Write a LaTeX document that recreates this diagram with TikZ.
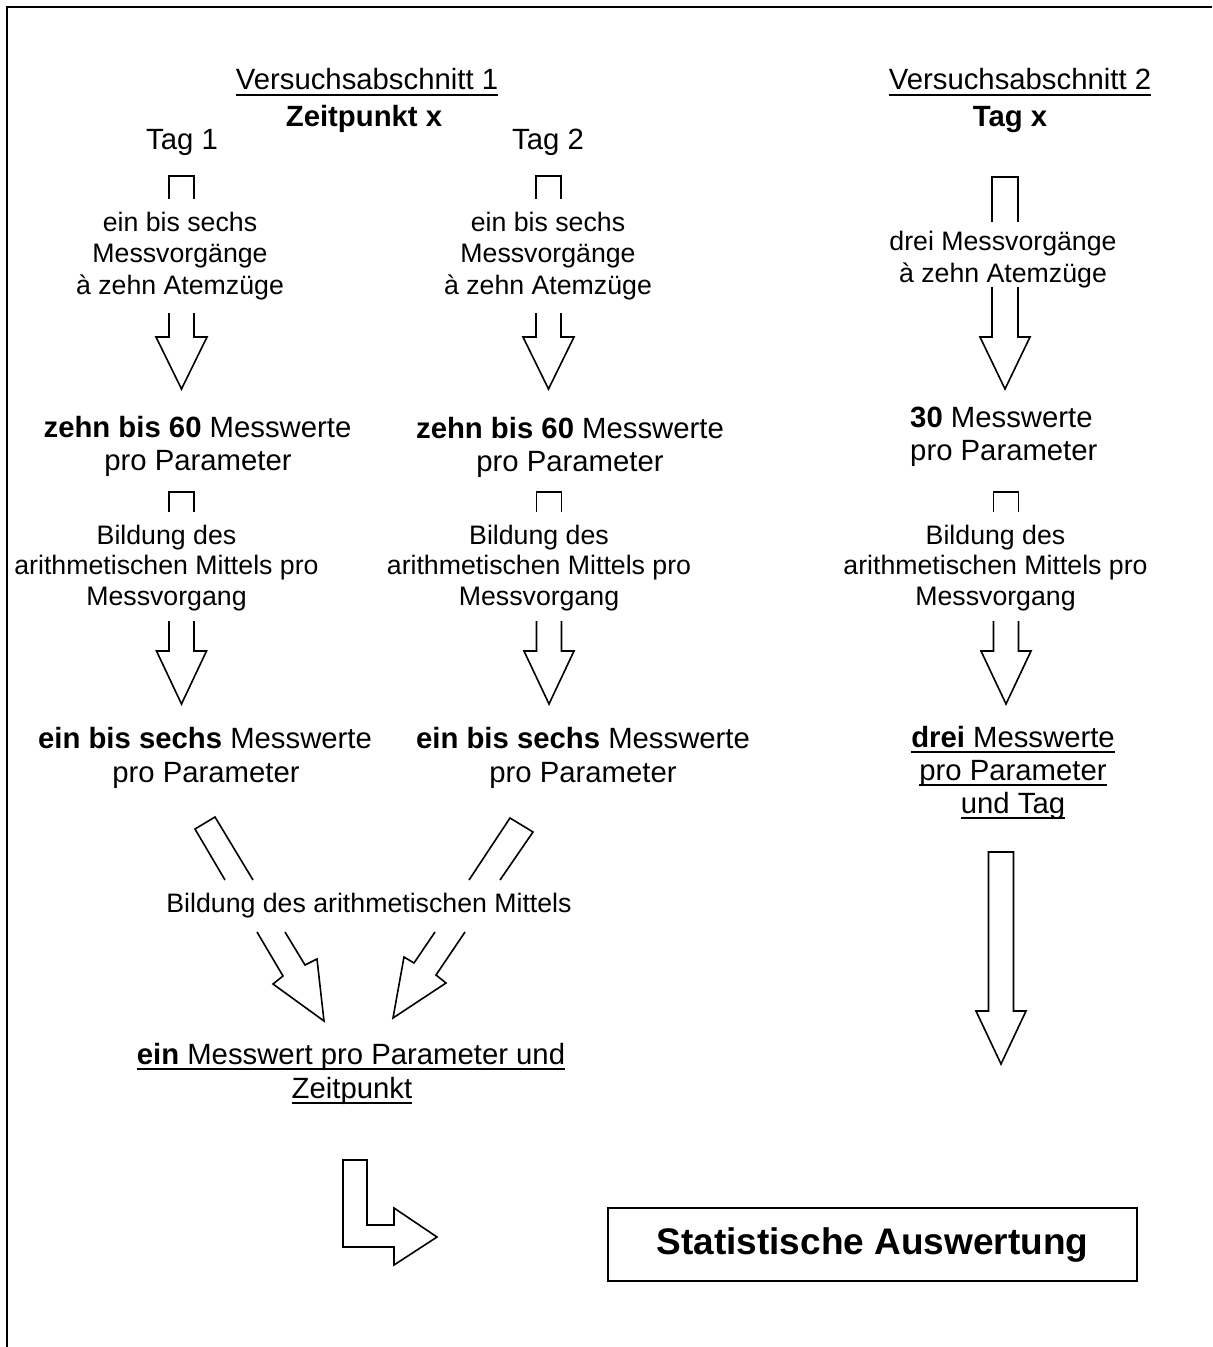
\documentclass[tikz,border=0pt]{standalone}
\usepackage{fontspec}
\setmainfont{Liberation Sans}
\tikzset{
  sm/.style={font=\fontsize{26.7bp}{31bp}\selectfont, inner sep=0pt, anchor=base},
  lg/.style={font=\fontsize{29.3bp}{34bp}\selectfont, inner sep=0pt, anchor=base},
  blk/.style={draw=black, line width=1.6bp, line join=miter},
  ulin/.style={draw=black, line width=2bp},
}
% underline of a text node
\newcommand\uln[1]{\draw[ulin] ([yshift=-5bp]#1.base west) -- ([yshift=-5bp]#1.base east);}
% tail of a block arrow: x, half shaft, y top, y bottom
\newcommand\arrtail[4]{\draw[blk] (#1-#2,#4) -- (#1-#2,#3) -- (#1+#2,#3) -- (#1+#2,#4);}
% head of a block arrow: x, half shaft, half head, y top, y base, y tip
\newcommand\arrhead[6]{\draw[blk] (#1-#2,#4) -- (#1-#2,#5) -- (#1-#3,#5) -- (#1,#6) -- (#1+#3,#5) -- (#1+#2,#5) -- (#1+#2,#4);}
\begin{document}
\begin{tikzpicture}[x=1bp,y=-1bp]
\useasboundingbox (0,0) rectangle (1212,1347);
\fill[white] (0,0) rectangle (1212,1347);
% frame
\draw[line width=2bp] (7,1347) -- (7,7) -- (1212,7);

% headings
\node[lg] (h1) at (367,90) {Versuchsabschnitt 1};
\node[lg] (h2) at (1020,90) {Versuchsabschnitt 2};
\uln{h1}\uln{h2}
\node[lg] (zp) at (364,127) {\textbf{Zeitpunkt x}};
\node[lg] (tx) at (1010,127) {\textbf{Tag x}};
\node[lg] (t1) at (182,150) {Tag 1};
\node[lg] (t2) at (548,150) {Tag 2};

% column 1, first step
\arrtail{181.5}{12.5}{176}{199}
\node[sm] (a1) at (180,232) {ein bis sechs};
\node[sm] (a2) at (180,263) {Messvorgänge};
\node[sm] (a3) at (180,294) {à zehn Atemzüge};
\arrhead{181.5}{12.5}{25.5}{313}{337}{389}
% column 2, first step
\arrtail{548.5}{12.5}{176}{199}
\node[sm] (b1) at (548,232) {ein bis sechs};
\node[sm] (b2) at (548,263) {Messvorgänge};
\node[sm] (b3) at (548,294) {à zehn Atemzüge};
\arrhead{548.5}{12.5}{25.5}{313}{337}{389}
% column 3, first step
\arrtail{1005}{13}{177}{222}
\node[sm] (c1) at (1003,251) {drei Messvorgänge};
\node[sm] (c2) at (1003,282) {à zehn Atemzüge};
\arrhead{1005}{13}{25}{287}{337}{389}

% second row of values
\node[lg] (d1) at (197.5,437) {\textbf{zehn bis 60} Messwerte};
\node[lg] (d2) at (198,470) {pro Parameter};
\node[lg] (e1) at (570,438) {\textbf{zehn bis 60} Messwerte};
\node[lg] (e2) at (570,471) {pro Parameter};
\node[lg, anchor=base west] (f1) at (910,427) {\textbf{30} Messwerte};
\node[lg, anchor=base west] (f2) at (910,460) {pro Parameter};

% second step
\arrtail{181.5}{12.5}{492}{512}
\node[sm] (g1) at (166.5,544) {Bildung des};
\node[sm] (g2) at (166.5,574) {arithmetischen Mittels pro};
\node[sm] (g3) at (166.5,605) {Messvorgang};
\arrhead{181.5}{12.5}{25}{621}{651}{704}
\arrtail{549}{12.5}{492}{512}
\node[sm] (h1b) at (539,544) {Bildung des};
\node[sm] (h2b) at (539,574) {arithmetischen Mittels pro};
\node[sm] (h3b) at (539,605) {Messvorgang};
\arrhead{549}{12.5}{25}{621}{651}{704}
\arrtail{1006}{12.5}{492}{512}
\node[sm] (i1) at (995.5,544) {Bildung des};
\node[sm] (i2) at (995.5,574) {arithmetischen Mittels pro};
\node[sm] (i3) at (995.5,605) {Messvorgang};
\arrhead{1006}{12.5}{25}{621}{651}{704}

% third row of values
\node[lg] (j1) at (205,748) {\textbf{ein bis sechs} Messwerte};
\node[lg] (j2) at (206,782) {pro Parameter};
\node[lg] (k1) at (583,748) {\textbf{ein bis sechs} Messwerte};
\node[lg] (k2) at (583,782) {pro Parameter};
\node[lg] (l1) at (1013,747) {\textbf{drei} Messwerte};
\node[lg] (l2) at (1013,780) {pro Parameter};
\node[lg] (l3) at (1013,813) {und Tag};
\uln{l1}\uln{l2}\uln{l3}

% diagonal arrows
\draw[blk] (225,880) -- (195,829) -- (215,817) -- (253,880);
\draw[blk] (257,932) -- (283,976) -- (273,984) -- (324,1021) -- (317,959) -- (305,965) -- (285,932);
\draw[blk] (469,880) -- (510,818) -- (533,832) -- (500,880);
\draw[blk] (435,932) -- (414,963) -- (404,957) -- (393,1018) -- (446,983) -- (436,975) -- (465,932);
\node[sm] (m) at (369,912) {Bildung des arithmetischen Mittels};

% long arrow, column 3
\draw[blk] (988.5,852) -- (1013.5,852) -- (1013.5,1011) -- (1026,1011) -- (1001,1064) -- (976,1011) -- (988.5,1011) -- cycle;

% result of section 1
\node[lg] (n1) at (351,1064) {\textbf{ein} Messwert pro Parameter und};
\node[lg] (n2) at (352,1098) {Zeitpunkt};
\uln{n1}\uln{n2}

% L-shaped arrow
\draw[blk] (343,1160) -- (367,1160) -- (367,1225) -- (394,1225) -- (394,1208) -- (437,1237) -- (394,1265) -- (394,1247) -- (343,1247) -- cycle;

% final box
\node[draw=black, line width=2bp, minimum width=529bp, minimum height=73bp, inner sep=0pt,
      font=\fontsize{37bp}{42bp}\selectfont\bfseries] (stat) at (872.5,1244.5) {Statistische Auswertung};
\end{tikzpicture}
\end{document}
